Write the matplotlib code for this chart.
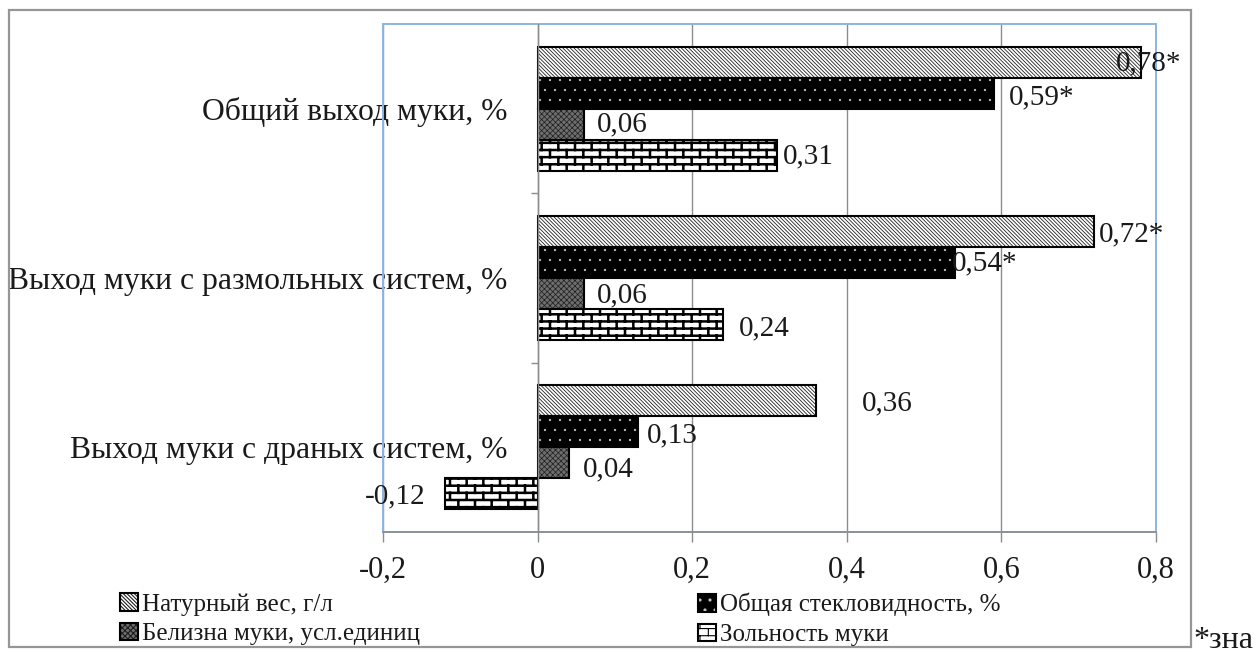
import warnings

import numpy as np
import matplotlib
matplotlib.use("Agg")
import matplotlib.pyplot as plt
from matplotlib import hatch as mhatch
from matplotlib.patches import Rectangle
from matplotlib.path import Path

warnings.filterwarnings("ignore", category=matplotlib.MatplotlibDeprecationWarning)

# ---------------------------------------------------------------- data
categories = [
    "Общий выход муки, %",
    "Выход муки с размольных систем, %",
    "Выход муки с драных систем, %",
]
series_names = [
    "Натурный вес, г/л",
    "Общая стекловидность, %",
    "Белизна муки, усл.единиц",
    "Зольность муки",
]
natural_weight = [0.78, 0.72, 0.36]
vitreousness = [0.59, 0.54, 0.13]
whiteness = [0.06, 0.06, 0.04]
ash_content = [0.31, 0.24, -0.12]
significant = [
    [True, True, False],
    [True, True, False],
    [False, False, False],
    [False, False, False],
]
x_ticks = [-0.2, 0, 0.2, 0.4, 0.6, 0.8]
x_tick_labels = ["-0,2", "0", "0,2", "0,4", "0,6", "0,8"]
footnote = "*зна"

series_values = [natural_weight, vitreousness, whiteness, ash_content]


# ------------------------------------------------ custom hatch textures
class BrickHatch(mhatch.HatchPatternBase):
    """Running-bond brick texture, selected with the 'b' hatch character."""

    def __init__(self, hatch, density):
        n = hatch.count("b")
        self.rows = 14 * n
        self.cols = 6
        if n:
            n_h = self.rows + 1
            n_v = sum(self.cols + 1 if r % 2 == 0 else self.cols
                      for r in range(self.rows))
            self.num_vertices = 2 * (n_h + n_v)
        else:
            self.num_vertices = 0

    def set_vertices_and_codes(self, vertices, codes):
        segs = []
        for r in range(self.rows + 1):
            yy = r / self.rows
            segs.append(((0.0, yy), (1.0, yy)))
        for r in range(self.rows):
            y0, y1 = r / self.rows, (r + 1) / self.rows
            if r % 2 == 0:
                xs = [j / self.cols for j in range(self.cols + 1)]
            else:
                xs = [(j + 0.5) / self.cols for j in range(self.cols)]
            for xx in xs:
                segs.append(((xx, y0), (xx, y1)))
        vertices[:] = np.array(segs, dtype=float).reshape(-1, 2)
        codes[0::2] = Path.MOVETO
        codes[1::2] = Path.LINETO


class SparseDots(mhatch.Circles):
    """Small filled dots on a staggered grid, selected with 'd'."""
    size = 0.1
    filled = True

    def __init__(self, hatch, density):
        self.num_rows = hatch.count("d") * 10
        super().__init__(hatch, density)


mhatch._hatch_types.extend([BrickHatch, SparseDots])

# ---------------------------------------------------------------- style
plt.rcParams["font.family"] = ["Liberation Serif", "DejaVu Serif"]
plt.rcParams["hatch.linewidth"] = 0.8

W, H = 1254, 659
fig = plt.figure(figsize=(W / 100, H / 100), dpi=100)
fig.patch.set_facecolor("white")

# outer chart-area frame
fig.add_artist(Rectangle((9 / W, 1 - 647 / H), (1191 - 9) / W, (647 - 10) / H,
                         transform=fig.transFigure, fill=False,
                         edgecolor="#969696", linewidth=1.6))

ax = fig.add_axes([383 / W, 1 - 532 / H, (1156 - 383) / W, (532 - 24) / H])
ax.set_xlim(-0.2, 0.8)
ax.set_ylim(len(categories) - 0.5, -0.5)

styles = [
    dict(facecolor="white", hatch="\\" * 9, hatch_color="#222222", hatch_lw=0.6),
    dict(facecolor="black", hatch="d", hatch_color="#c8c8c8", hatch_lw=0.2),
    dict(facecolor="#6e6e6e", hatch="xxxxxx", hatch_color="#1e1e1e", hatch_lw=0.5),
    dict(facecolor="white", hatch="b", hatch_color="black", hatch_lw=1.8),
]

y = np.arange(len(categories))
bar_h = 0.183
offsets = (np.arange(len(series_names)) - 1.5) * bar_h

containers = []
for i, (vals, st) in enumerate(zip(series_values, styles)):
    bc = ax.barh(y + offsets[i], vals, height=bar_h, color=st["facecolor"],
                 edgecolor="black", linewidth=1.5, hatch=st["hatch"],
                 label=series_names[i], zorder=2)
    for p in bc.patches:
        p._hatch_color = matplotlib.colors.to_rgba(st["hatch_color"])
        if hasattr(p, "_hatch_linewidth"):
            p._hatch_linewidth = st["hatch_lw"]
        p.stale = True
    containers.append(bc)

# data labels: pixel offsets of the label from the bar end and bar centre
label_dx = [
    [-25, 5, 46],
    [15, -3, 9],
    [13, 13, 14],
    [6, 16, -19],
]
label_dy = [
    [1, 3, 3],
    [4, 1, 4],
    [0, 2, 7],
    [1, 4, 3],
]
for i, vals in enumerate(series_values):
    for j, v in enumerate(vals):
        txt = f"{v:.2f}".replace(".", ",")
        if significant[i][j]:
            txt += "*"
        ha = "left" if v >= 0 else "right"
        ax.annotate(txt, xy=(v, y[j] + offsets[i]),
                    xytext=(label_dx[i][j], -label_dy[i][j]),
                    textcoords="offset pixels", ha=ha, va="center",
                    fontsize=21, color="#1a1a1a", zorder=4,
                    annotation_clip=False)

# axes frame: blue plot-area border, grey value axis and category axis at 0
blue = "#8eb4e3"
grey = "#8c8c8c"
ax.add_patch(Rectangle((0, 0), 1, 1, transform=ax.transAxes, fill=False,
                       edgecolor=blue, linewidth=1.4, zorder=0.8, clip_on=False))
for s in ("top", "right"):
    ax.spines[s].set_visible(False)
ax.spines["left"].set_position(("data", 0))
ax.spines["left"].set_color(grey)
ax.spines["left"].set_linewidth(1.0)
ax.spines["bottom"].set_color(grey)
ax.spines["bottom"].set_linewidth(1.2)

ax.set_xticks(x_ticks)
ax.set_xticklabels(x_tick_labels, fontsize=22, color="#1a1a1a")
ax.tick_params(axis="x", direction="out", length=7, width=1.0, color=grey, pad=10)
ax.grid(axis="x", color=grey, linewidth=1.0)
ax.set_axisbelow(True)

ax.set_yticks(y)
ax.set_yticklabels(categories, fontsize=22.8, color="#1a1a1a")
ax.tick_params(axis="y", which="major", length=0, pad=22)
ax.set_yticks(y[:-1] + 0.5, minor=True)
ax.tick_params(axis="y", which="minor", direction="out", length=5, width=1.0,
               color=grey)

# legend, two columns placed side by side
leg_kw = dict(loc="upper left", frameon=False, fontsize=18, borderpad=0,
              borderaxespad=0, handlelength=0.7, handleheight=0.7,
              handletextpad=0.16, labelspacing=0.28)
leg1 = fig.legend([containers[0], containers[2]],
                  [series_names[0], series_names[2]],
                  bbox_to_anchor=(120 / W, 1 - 593 / H), **leg_kw)
leg2 = fig.legend([containers[1], containers[3]],
                  [series_names[1], series_names[3]],
                  bbox_to_anchor=(698 / W, 1 - 593 / H), **leg_kw)
for leg in (leg1, leg2):
    for t in leg.get_texts():
        t.set_color("#1a1a1a")

fig.text(1193 / W, 1 - 640 / H, footnote, fontsize=23, ha="left", va="center",
         color="#1a1a1a")

fig.savefig("out.png", dpi=100, facecolor="white")
